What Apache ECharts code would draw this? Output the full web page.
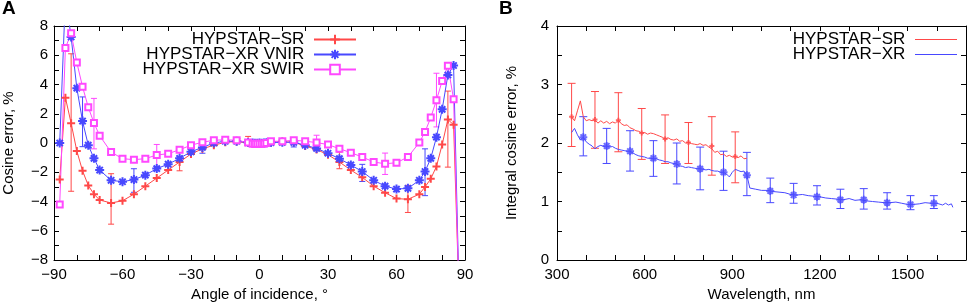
<!DOCTYPE html>
<html>
<head>
<meta charset="utf-8">
<script src="https://cdn.jsdelivr.net/npm/echarts@6.0.0/dist/echarts.min.js"></script>
<style>
  html, body { margin: 0; padding: 0; background: #fff; }
  #main { width: 969px; height: 307px; }
</style>
</head>
<body>
<div id="main"></div>
<script>
// panel A: cosine error vs angle of incidence
let angle = [-87.5, -85, -82.5, -80, -77.5, -75, -72.5, -70, -65, -60, -55, -50, -45, -40, -35, -30, -25, -20, -15, -10,
    -5, -3, -2, -1, 0, 1, 2, 3, 5, 10, 15, 20, 25, 30, 35, 40, 45, 50, 55, 60, 65, 70, 72.5, 75, 77.5, 80, 82.5, 85, 87.5];
let srA = [-2.5, 3.1, 1.35, -0.55, -1.9, -2.9, -3.5, -3.9, -4.1, -3.95, -3.5, -2.95, -2.4, -1.85, -1.3, -0.75, -0.4, -0.15, 0.05, 0.1,
    0.0, -0.05, -0.05, -0.05, -0.05, 0.0, 0.0, 0.0, 0.05, 0.1, 0.05, -0.2, -0.45, -0.8, -1.3, -1.85, -2.35, -2.95, -3.4, -3.8,
    -3.85, -3.5, -3.0, -2.45, -1.6, -0.1, 1.6, 1.25, -11];
let vnirA = [0.0, 10, 7.25, 3.75, 1.5, -0.15, -1.05, -1.85, -2.55, -2.65, -2.5, -2.2, -1.75, -1.45, -1.05, -0.6, -0.3, 0.0, 0.12, 0.12,
    0.03, 0.0, -0.02, -0.02, 0.0, -0.02, 0.0, 0.02, 0.03, 0.05, 0.05, -0.15, -0.37, -0.7, -1.07, -1.5, -1.95, -2.55, -2.95, -3.15,
    -3.1, -2.55, -1.95, -1.05, 0.4, 2.3, 4.65, 5.3, -11];
let swirA = [-4.2, 6.5, 7.5, 5.5, 3.85, 2.45, 1.37, 0.5, -0.62, -1.07, -1.14, -1.07, -0.82, -0.73, -0.46, -0.15, 0.05, 0.19, 0.22, 0.19,
    0.03, -0.05, -0.05, -0.05, -0.05, -0.05, -0.03, 0.0, 0.12, 0.12, 0.19, 0.12, 0.03, -0.11, -0.39, -0.66, -0.96, -1.3, -1.42, -1.35,
    -0.96, 0.03, 0.76, 1.74, 2.93, 4.24, 5.29, 3.0, -11];

// error bars A
let srBarAngle = [-82.5, -65, -35, -5, 35, 65, 82.5];
let srBarLo = [-3.3, -5.55, -1.9, -0.05, -1.76, -4.75, -1.65];
let srBarHi = [6.1, -2.1, -0.4, 0.45, -0.62, -2.9, 3.55];
let vnirBarAngle = [-77.5, -55, -25, 15, 45, 72.5];
let vnirBarLo = [-0.25, -3.37, -0.7, -0.27, -2.63, -3.6];
let vnirBarHi = [3.15, -1.76, 0.05, 0.23, -1.46, -0.4];
let swirBarAngle = [-72.5, -45, 25, 55, 77.5];
let swirBarLo = [-0.4, -1.6, -0.27, -2.15, 1.1];
let swirBarHi = [3.05, -0.1, 0.53, -0.69, 4.77];

// panel B: integral cosine error vs wavelength
let srWl = [350, 360, 370, 380, 390, 400, 410, 420, 430, 440, 450, 460, 470, 480, 490, 500, 510, 520, 530, 540,
    550, 560, 570, 580, 590, 600, 610, 620, 630, 640, 650, 660, 670, 680, 690, 700, 710, 720, 730, 740,
    750, 760, 770, 780, 790, 800, 810, 820, 830, 840, 850, 860, 870, 880, 890, 900, 910, 920, 930, 940, 950];
let srB = [2.45, 2.38, 2.55, 2.72, 2.45, 2.38, 2.40, 2.38, 2.40, 2.34, 2.38, 2.34, 2.37, 2.33, 2.36, 2.34, 2.39, 2.33, 2.30, 2.31,
    2.26, 2.24, 2.21, 2.20, 2.17, 2.18, 2.15, 2.17, 2.16, 2.14, 2.12, 2.10, 2.07, 2.09, 2.06, 2.05, 2.07, 2.03, 2.04, 2.00,
    2.01, 1.99, 1.98, 1.97, 1.99, 1.96, 1.97, 1.93, 1.90, 1.84, 1.86, 1.80, 1.81, 1.77, 1.79, 1.76, 1.77, 1.75, 1.78, 1.73, 1.74];
let xrWl = [350, 360, 370, 380, 390, 400, 410, 420, 430, 440, 450, 460, 470, 480, 490, 500, 510, 520, 530, 540,
    550, 560, 570, 580, 590, 600, 610, 620, 630, 640, 650, 660, 670, 680, 690, 700, 710, 720, 730, 740,
    750, 760, 770, 780, 790, 800, 810, 820, 830, 840, 850, 860, 870, 880, 890, 900, 910, 920, 930, 940, 950,
    960, 980, 1000, 1020, 1040, 1060, 1080, 1100, 1120, 1140, 1160, 1180, 1200, 1220, 1240, 1260, 1280, 1300, 1320, 1340,
    1360, 1380, 1400, 1420, 1440, 1460, 1480, 1500, 1520, 1540, 1560, 1580, 1600, 1620, 1630, 1640, 1650, 1655];
let xrB = [2.18, 2.25, 2.14, 2.05, 2.10, 2.02, 1.98, 1.95, 1.90, 1.94, 1.96, 1.94, 1.95, 1.93, 1.94, 1.91, 1.89, 1.88, 1.87, 1.86,
    1.86, 1.83, 1.80, 1.78, 1.77, 1.76, 1.74, 1.74, 1.73, 1.73, 1.71, 1.70, 1.68, 1.68, 1.66, 1.65, 1.64, 1.61, 1.60, 1.58,
    1.59, 1.58, 1.57, 1.56, 1.56, 1.55, 1.54, 1.55, 1.53, 1.52, 1.52, 1.50, 1.50, 1.47, 1.42, 1.50, 1.55, 1.53, 1.51, 1.52, 1.45,
    1.23, 1.21, 1.19, 1.19, 1.17, 1.16, 1.15, 1.12, 1.11, 1.12, 1.10, 1.09, 1.08, 1.06, 1.05, 1.04, 1.03, 1.05, 1.02, 1.03,
    1.01, 1.00, 0.99, 0.98, 0.98, 0.99, 0.97, 0.95, 0.95, 0.96, 0.98, 0.97, 0.97, 0.94, 0.97, 0.94, 0.96, 0.90];

// error bars B
let srBarWl = [350, 430, 510, 590, 670, 750, 830, 910];
let srBarVal = [2.45, 2.40, 2.39, 2.17, 2.07, 2.01, 1.95, 1.77];
let srBarLoB = [1.94, 1.91, 1.85, 1.72, 1.65, 1.65, 1.45, 1.32];
let srBarHiB = [3.02, 2.88, 2.86, 2.59, 2.48, 2.35, 2.45, 2.19];
let xrBarWl = [390, 470, 550, 630, 710, 790, 870, 950, 1030, 1110, 1190, 1270, 1350, 1430, 1510, 1590];
let xrBarVal = [2.10, 1.95, 1.86, 1.74, 1.64, 1.56, 1.50, 1.45, 1.18, 1.11, 1.08, 1.03, 1.03, 0.98, 0.95, 0.97];
let xrBarLoB = [1.78, 1.65, 1.52, 1.43, 1.30, 1.20, 1.19, 1.10, 0.98, 0.97, 0.94, 0.88, 0.87, 0.87, 0.86, 0.88];
let xrBarHiB = [2.45, 2.25, 2.21, 2.04, 2.00, 1.93, 1.86, 1.84, 1.40, 1.31, 1.27, 1.21, 1.22, 1.15, 1.10, 1.10];

const FONT = 'Liberation Sans, Arial, Helvetica, sans-serif';
const RED = '#ff4848';
const BLUE = '#4848ff';
const MAG = '#ff48ff';
const PLUS = 'emptyPath://M0,5L10,5M5,0L5,10';
const STAR = 'emptyPath://M0,5L10,5M5,0L5,10M1.5,1.5L8.5,8.5M1.5,8.5L8.5,1.5';

let zip = (xs, ys) => xs.map((x, i) => [x, ys[i]]);
let bars = (xs, lo, hi) => xs.map((x, i) => [x, lo[i], hi[i]]);
let minus = v => (v < 0 ? '\u2212' + Math.abs(v) : '' + v);

function errorBar(w) {
    return function (params, api) {
        let x = api.value(0);
        let lo = api.coord([x, api.value(1)]);
        let hi = api.coord([x, api.value(2)]);
        let style = { stroke: api.visual('color'), lineWidth: 1 };
        return {
            type: 'group',
            children: [
                { type: 'line', shape: { x1: lo[0], y1: lo[1], x2: hi[0], y2: hi[1] }, style: style },
                { type: 'line', shape: { x1: lo[0] - w, y1: lo[1], x2: lo[0] + w, y2: lo[1] }, style: style },
                { type: 'line', shape: { x1: hi[0] - w, y1: hi[1], x2: hi[0] + w, y2: hi[1] }, style: style }
            ]
        };
    };
}

function axis(grid, pos, min, max, interval, extra) {
    let a = {
        gridIndex: grid, type: 'value', position: pos, min: min, max: max, interval: interval,
        axisLine: { onZero: false, lineStyle: { color: '#000', width: 1 } },
        axisTick: { inside: true, length: 5, lineStyle: { color: '#000' } },
        axisLabel: { show: false },
        splitLine: { show: false }
    };
    return Object.assign(a, extra || {});
}

let nameStyle = { fontSize: 15, color: '#000', fontFamily: FONT };
let labelStyle = { color: '#000', fontSize: 15, fontFamily: FONT };

let legendBase = {
    orient: 'vertical', align: 'right', padding: 0, itemWidth: 42, itemHeight: 12,
    selectedMode: false,
    textStyle: { fontSize: 17, color: '#000', fontFamily: FONT },
    formatter: name => name.replace(/^B: /, '') + ' '
};
// panel B keys are plain lines
let legendLine = Object.assign({}, legendBase, { icon: 'rect', itemHeight: 1 });

let option = {
    animation: false,
    textStyle: { fontFamily: FONT },
    title: [
        { text: 'A', left: 2, top: -1, padding: 0, textStyle: { fontSize: 19, fontWeight: 'bold', color: '#000', fontFamily: FONT } },
        { text: 'B', left: 499, top: -1, padding: 0, textStyle: { fontSize: 19, fontWeight: 'bold', color: '#000', fontFamily: FONT } }
    ],
    legend: [
        Object.assign({ data: ['HYPSTAR\u2212SR'], right: 612, top: 31 }, legendBase),
        Object.assign({ data: ['HYPSTAR\u2212XR VNIR'], right: 612, top: 46 }, legendBase),
        Object.assign({ data: ['HYPSTAR\u2212XR SWIR'], right: 612, top: 61 }, legendBase),
        Object.assign({ data: ['B: HYPSTAR\u2212SR'], right: 12, top: 31 }, legendLine),
        Object.assign({ data: ['B: HYPSTAR\u2212XR'], right: 12, top: 46 }, legendLine)
    ],
    grid: [
        { left: 54, right: 504, top: 26, bottom: 47 },
        { left: 557, right: 2, top: 26, bottom: 47 }
    ],
    xAxis: [
        axis(0, 'bottom', -90, 90, 10, {
            name: 'Angle of incidence, \u00b0', nameLocation: 'middle', nameGap: 27, nameTextStyle: nameStyle,
            axisLabel: Object.assign({ margin: 7, formatter: v => (v % 30 === 0 ? minus(v) : '') }, labelStyle)
        }),
        axis(0, 'top', -90, 90, 10),
        axis(1, 'bottom', 300, 1700, 100, {
            name: 'Wavelength, nm', nameLocation: 'middle', nameGap: 27, nameTextStyle: nameStyle,
            axisLabel: Object.assign({ margin: 7, formatter: v => (v % 300 === 0 ? '' + v : '') }, labelStyle)
        }),
        axis(1, 'top', 300, 1700, 100)
    ],
    yAxis: [
        axis(0, 'left', -8, 8, 1, {
            name: 'Cosine error, %', nameLocation: 'middle', nameGap: 38, nameTextStyle: nameStyle,
            axisLabel: Object.assign({ margin: 6, formatter: v => (v % 2 === 0 ? minus(v) : '') }, labelStyle)
        }),
        axis(0, 'right', -8, 8, 1),
        axis(1, 'left', 0, 4, 0.5, {
            name: 'Integral cosine error, %', nameLocation: 'middle', nameGap: 38, nameTextStyle: nameStyle,
            axisLabel: Object.assign({ margin: 8, formatter: v => (Number.isInteger(v) ? '' + v : '') }, labelStyle)
        }),
        axis(1, 'right', 0, 4, 0.5)
    ],
    series: [
        // error bars A
        { type: 'custom', xAxisIndex: 0, yAxisIndex: 0, data: bars(srBarAngle, srBarLo, srBarHi), renderItem: errorBar(3),
          itemStyle: { color: RED }, encode: { x: 0, y: [1, 2] }, clip: true, silent: true },
        { type: 'custom', xAxisIndex: 0, yAxisIndex: 0, data: bars(vnirBarAngle, vnirBarLo, vnirBarHi), renderItem: errorBar(3),
          itemStyle: { color: BLUE }, encode: { x: 0, y: [1, 2] }, clip: true, silent: true },
        { type: 'custom', xAxisIndex: 0, yAxisIndex: 0, data: bars(swirBarAngle, swirBarLo, swirBarHi), renderItem: errorBar(3),
          itemStyle: { color: MAG }, encode: { x: 0, y: [1, 2] }, clip: true, silent: true },
        // lines A
        { name: 'HYPSTAR\u2212SR', type: 'line', xAxisIndex: 0, yAxisIndex: 0, data: zip(angle, srA),
          symbol: PLUS, symbolSize: 8, showAllSymbol: true, clip: true,
          lineStyle: { color: RED, width: 1 }, itemStyle: { color: RED, borderWidth: 1 } },
        { name: 'HYPSTAR\u2212XR VNIR', type: 'line', xAxisIndex: 0, yAxisIndex: 0, data: zip(angle, vnirA),
          symbol: STAR, symbolSize: 9, showAllSymbol: true, clip: true,
          lineStyle: { color: BLUE, width: 1 }, itemStyle: { color: BLUE, borderWidth: 1 } },
        { name: 'HYPSTAR\u2212XR SWIR', type: 'line', xAxisIndex: 0, yAxisIndex: 0, data: zip(angle, swirA),
          symbol: 'emptyRect', symbolSize: 6, showAllSymbol: true, clip: true,
          lineStyle: { color: MAG, width: 1 }, itemStyle: { color: MAG, borderWidth: 1 } },
        // panel B
        { type: 'custom', xAxisIndex: 2, yAxisIndex: 2, data: bars(srBarWl, srBarLoB, srBarHiB), renderItem: errorBar(4),
          itemStyle: { color: RED }, encode: { x: 0, y: [1, 2] }, clip: true, silent: true },
        { type: 'custom', xAxisIndex: 2, yAxisIndex: 2, data: bars(xrBarWl, xrBarLoB, xrBarHiB), renderItem: errorBar(4),
          itemStyle: { color: BLUE }, encode: { x: 0, y: [1, 2] }, clip: true, silent: true },
        { name: 'B: HYPSTAR\u2212SR', type: 'line', xAxisIndex: 2, yAxisIndex: 2, data: zip(srWl, srB),
          symbol: 'none', lineStyle: { color: RED, width: 1 }, itemStyle: { color: RED } },
        { name: 'B: HYPSTAR\u2212XR', type: 'line', xAxisIndex: 2, yAxisIndex: 2, data: zip(xrWl, xrB),
          symbol: 'none', lineStyle: { color: BLUE, width: 1 }, itemStyle: { color: BLUE } },
        { type: 'scatter', xAxisIndex: 2, yAxisIndex: 2, data: zip(srBarWl, srBarVal), symbol: PLUS, symbolSize: 5,
          itemStyle: { color: RED, borderWidth: 1 }, silent: true },
        { type: 'scatter', xAxisIndex: 2, yAxisIndex: 2, data: zip(xrBarWl, xrBarVal), symbol: STAR, symbolSize: 8,
          itemStyle: { color: BLUE, borderWidth: 1 }, silent: true }
    ]
};

let chart = echarts.init(document.getElementById('main'), null, { renderer: 'canvas' });
chart.setOption(option);
</script>
</body>
</html>
